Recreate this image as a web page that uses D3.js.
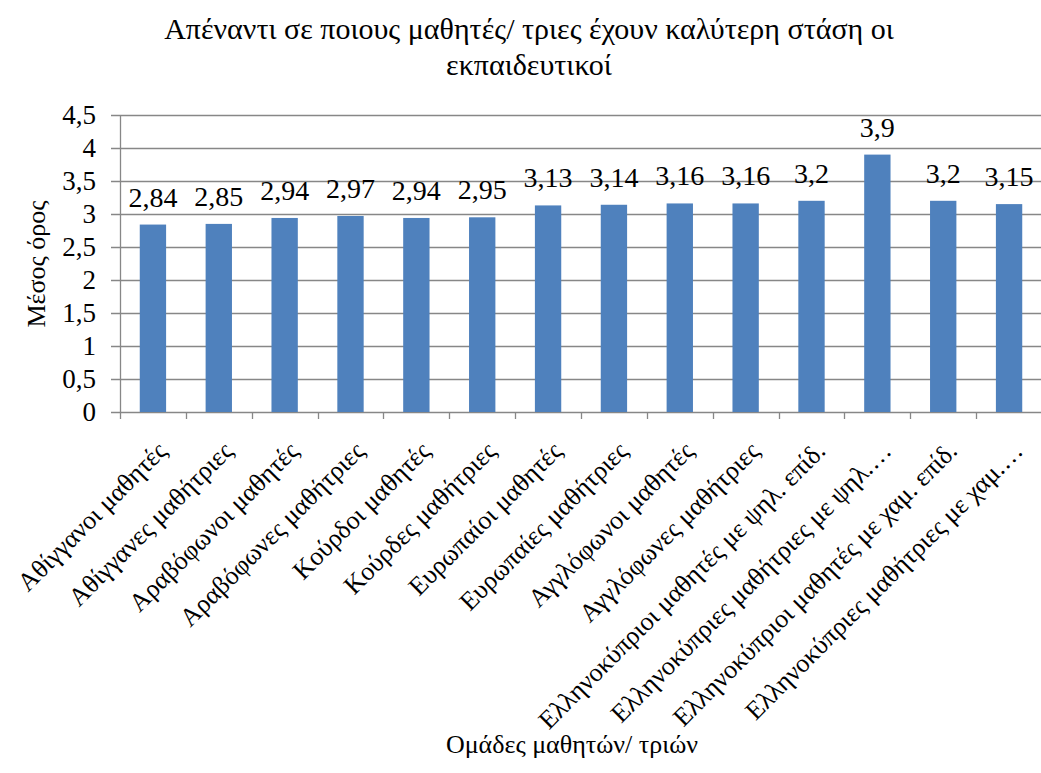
<!DOCTYPE html>
<html>
<head>
<meta charset="utf-8">
<script src="https://cdn.jsdelivr.net/npm/d3@7"></script>
</head>
<body style="margin:0">
<svg id="chart" width="1041" height="773"></svg>
<script>
// Student groups and their mean scores
const categories = [
  "Αθίγγανοι μαθητές",
  "Αθίγγανες μαθήτριες",
  "Αραβόφωνοι μαθητές",
  "Αραβόφωνες μαθήτριες",
  "Κούρδοι μαθητές",
  "Κούρδες μαθήτριες",
  "Ευρωπαίοι μαθητές",
  "Ευρωπαίες μαθήτριες",
  "Αγγλόφωνοι μαθητές",
  "Αγγλόφωνες μαθήτριες",
  "Ελληνοκύπριοι μαθητές με ψηλ. επίδ.",
  "Ελληνοκύπριες μαθήτριες με ψηλ.…",
  "Ελληνοκύπριοι μαθητές με χαμ. επίδ.",
  "Ελληνοκύπριες μαθήτριες με χαμ.…"
];
const values = [2.84, 2.85, 2.94, 2.97, 2.94, 2.95, 3.13, 3.14, 3.16, 3.16, 3.2, 3.9, 3.2, 3.15];
const yTicks = [0, 0.5, 1, 1.5, 2, 2.5, 3, 3.5, 4, 4.5];

const titleLines = ["Απέναντι σε ποιους μαθητές/ τριες έχουν καλύτερη στάση οι", "εκπαιδευτικοί"];
const xTitle = "Ομάδες μαθητών/ τριών";
const yTitle = "Μέσος όρος";

const svg = d3.select("#chart");
const plot = { left: 120, right: 1042, top: 115, bottom: 412 };
const gridColor = "#878787";
const barColor = "#4F81BD";

// Serif text helper
function label(sel, size) {
  return sel
    .style("font-family", () => '"Liberation Serif"')
    .attr("font-size", size);
}

const fmt = v => String(v).replace(".", ",");

const x = d3.scaleBand()
  .domain(categories)
  .range([plot.left, plot.right])
  .paddingInner(0.6)
  .paddingOuter(0.3);

const y = d3.scaleLinear()
  .domain([0, 4.5])
  .range([plot.bottom, plot.top]);

// Horizontal gridlines
svg.append("g")
  .selectAll("line")
  .data(yTicks)
  .join("line")
  .attr("x1", plot.left - 9)
  .attr("x2", plot.right)
  .attr("y1", d => Math.round(y(d)) + 0.5)
  .attr("y2", d => Math.round(y(d)) + 0.5)
  .attr("stroke", gridColor)
  .attr("stroke-width", 1.3);

// Y axis line
svg.append("line")
  .attr("x1", plot.left + 0.5).attr("x2", plot.left + 0.5)
  .attr("y1", plot.top).attr("y2", plot.bottom)
  .attr("stroke", gridColor).attr("stroke-width", 1.3);

// Y tick labels
const tickSize = 27;
svg.append("g")
  .selectAll("text")
  .data(yTicks)
  .join("text")
  .attr("x", 96)
  .attr("y", d => y(d) + 0.35 * tickSize)
  .attr("text-anchor", "end")
  .call(label, tickSize)
  .text(d => fmt(d));

// X tick marks at category boundaries
const step = x.step();
const boundaries = d3.range(categories.length + 1).map(i => plot.left + i * step);
svg.append("g")
  .selectAll("line")
  .data(boundaries)
  .join("line")
  .attr("x1", d => Math.round(d) + 0.5)
  .attr("x2", d => Math.round(d) + 0.5)
  .attr("y1", plot.bottom)
  .attr("y2", plot.bottom + 7)
  .attr("stroke", gridColor)
  .attr("stroke-width", 1.3);

// Bars
svg.append("g")
  .selectAll("rect")
  .data(values)
  .join("rect")
  .attr("x", (d, i) => x(categories[i]))
  .attr("width", x.bandwidth())
  .attr("y", d => y(d))
  .attr("height", d => y(0) - y(d))
  .attr("fill", barColor);

// Value labels
svg.append("g")
  .selectAll("text")
  .data(values)
  .join("text")
  .attr("x", (d, i) => x(categories[i]) + x.bandwidth() / 2)
  .attr("y", d => y(d) - 18)
  .attr("text-anchor", "middle")
  .call(label, 28)
  .text(d => fmt(d));

// Category labels, rotated
const catSize = 26;
svg.append("g")
  .selectAll("text")
  .data(categories)
  .join("text")
  .attr("transform", d => `translate(${x(d) + x.bandwidth() / 2 + 9},${plot.bottom + 34}) rotate(-45)`)
  .attr("y", 0.35 * catSize)
  .attr("text-anchor", "end")
  .call(label, catSize)
  .text(d => d);

// Title
svg.append("g")
  .selectAll("text")
  .data(titleLines)
  .join("text")
  .attr("x", 529)
  .attr("y", (d, i) => 39 + i * 36)
  .attr("text-anchor", "middle")
  .call(label, 30)
  .text(d => d);

// Axis titles
svg.append("text")
  .attr("x", 572)
  .attr("y", 753)
  .attr("text-anchor", "middle")
  .call(label, 26)
  .text(xTitle);

svg.append("text")
  .attr("transform", "translate(45,264) rotate(-90)")
  .attr("text-anchor", "middle")
  .call(label, 26)
  .text(yTitle);
</script>
</body>
</html>
